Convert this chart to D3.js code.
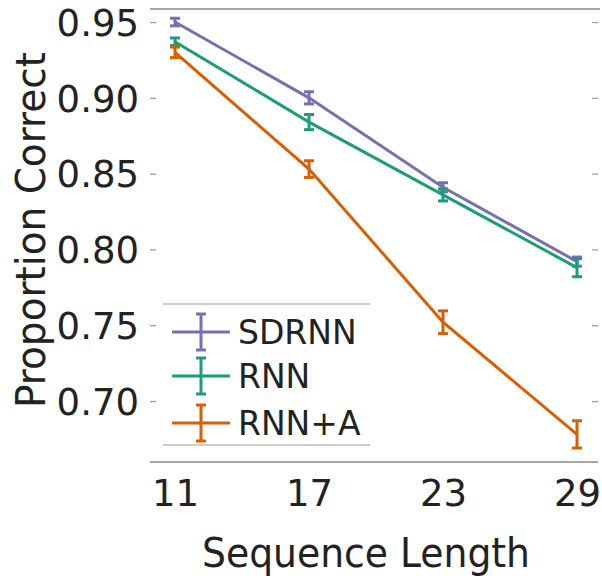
<!DOCTYPE html>
<html>
<head>
<meta charset="utf-8">
<script src="https://cdn.jsdelivr.net/npm/d3@7"></script>
<style>
  body { margin: 0; background: #fff; }
  svg text { font-family: "DejaVu Sans", sans-serif; fill: #222; }
</style>
</head>
<body>
<div id="chart"></div>
<script>
// sequence lengths on the x axis
var lengths = [11, 17, 23, 29];
var seriesNames = ["SDRNN", "RNN", "RNN+A"];
var seriesColors = ["#7570b3", "#1b9e77", "#d95f02"];
// mean proportion correct, one array per model
var sdrnnValues = [0.950, 0.900, 0.841, 0.792];
var rnnValues = [0.937, 0.884, 0.836, 0.788];
var rnnaValues = [0.930, 0.853, 0.752, 0.678];
// half width of the error bars
var sdrnnErr = [0.0025, 0.004, 0.003, 0.003];
var rnnErr = [0.0025, 0.005, 0.004, 0.006];
var rnnaErr = [0.0035, 0.0055, 0.0075, 0.009];
var yTicks = [0.70, 0.75, 0.80, 0.85, 0.90, 0.95];

var W = 602, H = 576;
var margin = {top: 9, right: 4, bottom: 114, left: 150};

var svg = d3.select("#chart").append("svg")
  .attr("width", W).attr("height", H);

var x = d3.scaleLinear().domain([9.88, 29.94]).range([margin.left, W - margin.right]);
var y = d3.scaleLinear().domain([0.6598, 0.9586]).range([H - margin.bottom, margin.top]);

var series = [
  {name: seriesNames[0], color: seriesColors[0], values: sdrnnValues, err: sdrnnErr},
  {name: seriesNames[1], color: seriesColors[1], values: rnnValues, err: rnnErr},
  {name: seriesNames[2], color: seriesColors[2], values: rnnaValues, err: rnnaErr}
];

// spines (only top and bottom are drawn)
svg.append("line")
  .attr("x1", margin.left).attr("x2", W - 2)
  .attr("y1", y.range()[1]).attr("y2", y.range()[1])
  .attr("stroke", "#8a8a8a").attr("stroke-width", 1.5);
svg.append("line")
  .attr("x1", margin.left).attr("x2", W - 4)
  .attr("y1", y.range()[0]).attr("y2", y.range()[0])
  .attr("stroke", "#8a8a8a").attr("stroke-width", 1.5);

// y axis, ticks inward on both sides
var yAxis = d3.axisLeft(y).tickValues(yTicks).tickFormat(d3.format(".2f")).tickSize(-6).tickPadding(11);
var gy = svg.append("g").attr("transform", "translate(" + margin.left + ",0)").call(yAxis);
gy.select(".domain").remove();
gy.selectAll(".tick line").attr("stroke", "#999").attr("stroke-width", 1.2);
gy.selectAll(".tick text").attr("font-size", 37).attr("dy", "0.36em").style("fill", "#222");

var yAxisR = d3.axisRight(y).tickValues(yTicks).tickSize(-6).tickFormat("");
var gyr = svg.append("g").attr("transform", "translate(" + (W - 4) + ",0)").call(yAxisR);
gyr.select(".domain").remove();
gyr.selectAll(".tick line").attr("stroke", "#999").attr("stroke-width", 1.2);

// x axis labels only
var xAxis = d3.axisBottom(x).tickValues(lengths).tickSize(0).tickPadding(25);
var gx = svg.append("g").attr("transform", "translate(0," + y.range()[0] + ")").call(xAxis);
gx.select(".domain").remove();
gx.selectAll(".tick text").attr("font-size", 37).attr("dy", "0.5em").style("fill", "#222");

// axis titles
svg.append("text")
  .attr("x", 366).attr("y", 567)
  .attr("text-anchor", "middle").attr("font-size", 40)
  .attr("textLength", 328).attr("lengthAdjust", "spacingAndGlyphs")
  .text("Sequence Length");
svg.append("text")
  .attr("transform", "translate(45," + 230 + ") rotate(-90)")
  .attr("text-anchor", "middle").attr("font-size", 41)
  .attr("textLength", 356).attr("lengthAdjust", "spacingAndGlyphs")
  .text("Proportion Correct");

var line = d3.line()
  .x(function(d, i) { return x(lengths[i]); })
  .y(function(d) { return y(d); });

var capW = 5;
series.forEach(function(s) {
  var g = svg.append("g");
  g.append("path")
    .attr("d", line(s.values))
    .attr("fill", "none").attr("stroke", s.color).attr("stroke-width", 3);
  s.values.forEach(function(v, i) {
    var cx = x(lengths[i]);
    var lo = y(v - s.err[i]), hi = y(v + s.err[i]);
    g.append("line").attr("x1", cx).attr("x2", cx).attr("y1", lo).attr("y2", hi)
      .attr("stroke", s.color).attr("stroke-width", 3);
    g.append("line").attr("x1", cx - capW).attr("x2", cx + capW).attr("y1", lo).attr("y2", lo)
      .attr("stroke", s.color).attr("stroke-width", 3);
    g.append("line").attr("x1", cx - capW).attr("x2", cx + capW).attr("y1", hi).attr("y2", hi)
      .attr("stroke", s.color).attr("stroke-width", 3);
  });
});

// legend
var legend = svg.append("g");
legend.append("line").attr("x1", 163).attr("x2", 370).attr("y1", 304).attr("y2", 304)
  .attr("stroke", "#999").attr("stroke-width", 1.2);
legend.append("line").attr("x1", 163).attr("x2", 370).attr("y1", 445).attr("y2", 445)
  .attr("stroke", "#999").attr("stroke-width", 1.2);
var legendY = [332, 376, 423];
series.forEach(function(s, i) {
  var ly = legendY[i];
  legend.append("line").attr("x1", 172).attr("x2", 230).attr("y1", ly).attr("y2", ly)
    .attr("stroke", s.color).attr("stroke-width", 3);
  legend.append("line").attr("x1", 201).attr("x2", 201).attr("y1", ly - 18).attr("y2", ly + 18)
    .attr("stroke", s.color).attr("stroke-width", 3);
  legend.append("line").attr("x1", 196).attr("x2", 206).attr("y1", ly - 18).attr("y2", ly - 18)
    .attr("stroke", s.color).attr("stroke-width", 3);
  legend.append("line").attr("x1", 196).attr("x2", 206).attr("y1", ly + 18).attr("y2", ly + 18)
    .attr("stroke", s.color).attr("stroke-width", 3);
  legend.append("text").attr("x", 238).attr("y", ly + 12)
    .attr("font-size", 33).text(s.name);
});
</script>
</body>
</html>
